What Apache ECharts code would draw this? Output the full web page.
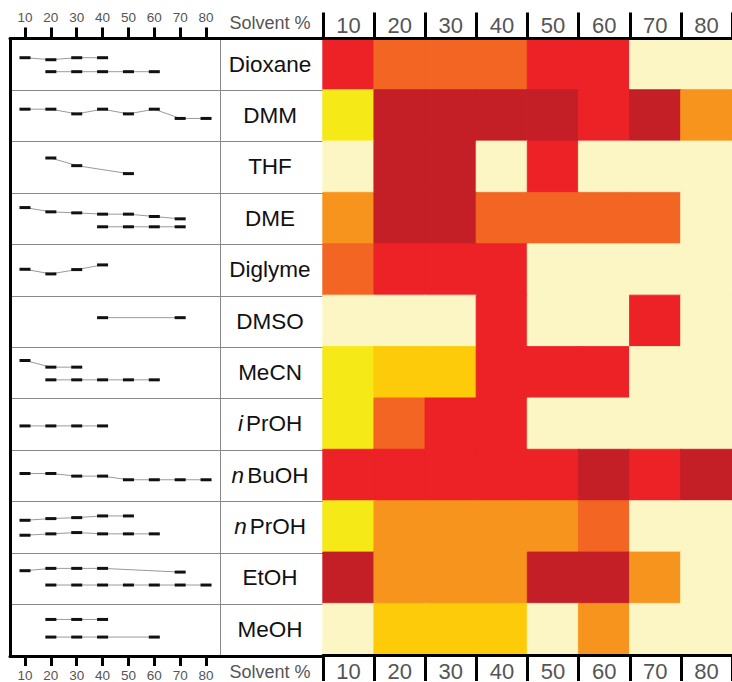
<!DOCTYPE html>
<html>
<head>
<meta charset="utf-8">
<script src="https://cdn.jsdelivr.net/npm/echarts@6/dist/echarts.min.js"></script>
<style>
html,body{margin:0;padding:0;background:#fff;}
#chart{width:732px;height:682px;}
</style>
</head>
<body>
<div id="chart"></div>
<script>
// ---------- data ----------
const percents = [10, 20, 30, 40, 50, 60, 70, 80];
const percentLabels = ['10', '20', '30', '40', '50', '60', '70', '80'];
const solvents = ['Dioxane', 'DMM', 'THF', 'DME', 'Diglyme', 'DMSO', 'MeCN', 'iPrOH', 'nBuOH', 'nPrOH', 'EtOH', 'MeOH'];

// heatmap levels: 0 cream, 1 yellow, 2 gold, 3 light orange, 4 orange, 5 red, 6 dark red
const levelColors = ['#FBF6C3', '#F5E918', '#FECB0A', '#F7941D', '#F26522', '#EC2227', '#C41F27'];
const lvDioxane = [5, 4, 4, 4, 5, 5, 0, 0];
const lvDMM     = [1, 6, 6, 6, 6, 5, 6, 3];
const lvTHF     = [0, 6, 6, 0, 5, 0, 0, 0];
const lvDME     = [3, 6, 6, 4, 4, 4, 4, 0];
const lvDiglyme = [4, 5, 5, 5, 0, 0, 0, 0];
const lvDMSO    = [0, 0, 0, 5, 0, 0, 5, 0];
const lvMeCN    = [1, 2, 2, 5, 5, 5, 0, 0];
const lviPrOH   = [1, 4, 5, 5, 0, 0, 0, 0];
const lvnBuOH   = [5, 5, 5, 5, 5, 6, 5, 6];
const lvnPrOH   = [1, 3, 3, 3, 3, 4, 0, 0];
const lvEtOH    = [6, 3, 3, 3, 6, 6, 3, 0];
const lvMeOH    = [0, 2, 2, 2, 0, 3, 0, 0];
const levelRows = [lvDioxane, lvDMM, lvTHF, lvDME, lvDiglyme, lvDMSO, lvMeCN, lviPrOH, lvnBuOH, lvnPrOH, lvEtOH, lvMeOH];

// mini profiles: [solvent %, relative level within row (0 top .. 100 bottom)]
const dioxaneA = [[10, 37.4], [20, 41.3], [30, 37.4], [40, 37.4]];
const dioxaneB = [[20, 64.6], [30, 64.6], [40, 64.6], [50, 64.6], [60, 64.6]];
const dmmA     = [[10, 37.6], [20, 37.6], [30, 46.7], [40, 37.6], [50, 46.7], [60, 37.6], [70, 55.6], [80, 55.6]];
const thfA     = [[20, 32.6], [30, 47.5], [50, 63.0]];
const dmeA     = [[10, 29.1], [20, 37.4], [30, 39.4], [40, 41.9], [50, 41.9], [60, 46.5], [70, 51.0]];
const dmeB     = [[40, 66.5], [50, 66.5], [60, 66.5], [70, 66.5]];
const diglymeA = [[10, 49.2], [20, 58.2], [30, 49.8], [40, 40.7]];
const dmsoA    = [[40, 43.4], [70, 43.4]];
const mecnA    = [[10, 26.8], [20, 39.7], [30, 39.7]];
const mecnB    = [[20, 64.4], [30, 64.4], [40, 64.4], [50, 64.4], [60, 64.4]];
const iprohA   = [[10, 54.1], [20, 54.1], [30, 54.1], [40, 54.1]];
const nbuohA   = [[10, 46.7], [20, 46.7], [30, 51.8], [40, 51.8], [50, 58.9], [60, 58.9], [70, 58.9], [80, 58.9]];
const nprohA   = [[10, 37.8], [20, 34.5], [30, 32.6], [40, 29.3], [50, 29.3]];
const nprohB   = [[10, 66.9], [20, 64.2], [30, 61.7], [40, 64.2], [50, 64.2], [60, 64.2]];
const etohA    = [[10, 35.9], [20, 31.4], [30, 31.4], [40, 31.4], [70, 38.6]];
const etohB    = [[20, 63.8], [30, 63.8], [40, 63.8], [50, 63.8], [60, 63.8], [70, 63.8], [80, 63.8]];
const meohA    = [[20, 30.8], [30, 30.8], [40, 30.8]];
const meohB    = [[20, 65.1], [30, 65.1], [40, 65.1], [60, 65.1]];
const miniTraces = [
  ['Dioxane', dioxaneA], ['Dioxane', dioxaneB], ['DMM', dmmA], ['THF', thfA],
  ['DME', dmeA], ['DME', dmeB], ['Diglyme', diglymeA], ['DMSO', dmsoA],
  ['MeCN', mecnA], ['MeCN', mecnB], ['iPrOH', iprohA], ['nBuOH', nbuohA],
  ['nPrOH', nprohA], ['nPrOH', nprohB], ['EtOH', etohA], ['EtOH', etohB],
  ['MeOH', meohA], ['MeOH', meohB]
];
const axisTitle = 'Solvent %';

// ---------- chart ----------
const FONT = '"Liberation Sans", Arial, Helvetica, sans-serif';
const chart = echarts.init(document.getElementById('chart'), null, {renderer: 'svg'});

const heatData = [];
levelRows.forEach((row, r) => row.forEach((v, c) => heatData.push({
  value: [c, r, v],
  itemStyle: {color: levelColors[v], borderColor: levelColors[v], borderWidth: 0.8}
})));

const miniSeries = miniTraces.map(([name, pts]) => {
  const r = solvents.indexOf(name);
  return {
    type: 'line', name: name, xAxisIndex: 2, yAxisIndex: 1,
    data: pts.map(p => [p[0], r + p[1] / 100]),
    symbol: 'rect', symbolSize: [11, 3], showAllSymbol: true,
    itemStyle: {color: '#111'},
    lineStyle: {color: '#9a9a9a', width: 1},
    emphasis: {disabled: true}, silent: true, z: 5
  };
});

const heatTop = 38.5, heatH = 617.5;
const miniTickLabel = {show: true, customValues: percents, color: '#555', fontSize: 13.5, fontFamily: FONT};

const option = {
  animation: false,
  backgroundColor: '#fff',
  grid: [
    {left: 323, top: heatTop, width: 412, height: heatH},
    {left: 10, top: heatTop, width: 210, height: heatH},
    {left: 10, top: heatTop, width: 313, height: heatH}
  ],
  xAxis: [
    {type: 'category', gridIndex: 0, position: 'top', data: percentLabels,
     axisLine: {show: true, lineStyle: {color: '#000', width: 3}},
     axisTick: {show: true, length: 26, lineStyle: {color: '#000', width: 3}},
     axisLabel: {color: '#555', fontSize: 22, fontFamily: FONT, margin: 2},
     splitLine: {show: false}, z: 10},
    {type: 'category', gridIndex: 0, position: 'bottom', data: percentLabels,
     axisLine: {show: true, lineStyle: {color: '#000', width: 3}},
     axisTick: {show: true, length: 26, lineStyle: {color: '#000', width: 3}},
     axisLabel: {color: '#555', fontSize: 22, fontFamily: FONT, margin: 5},
     splitLine: {show: false}, z: 10},
    {type: 'value', gridIndex: 1, position: 'top', min: 4.2, max: 85.4,
     axisLine: {show: false, onZero: false},
     axisTick: {show: true, customValues: percents, length: 11, lineStyle: {color: '#000', width: 3}},
     axisLabel: Object.assign({margin: 14}, miniTickLabel),
     splitLine: {show: false}},
    {type: 'value', gridIndex: 1, position: 'bottom', min: 4.2, max: 85.4,
     axisLine: {show: false, onZero: false},
     axisTick: {show: true, customValues: percents, length: 11, lineStyle: {color: '#000', width: 3}},
     axisLabel: Object.assign({margin: 13}, miniTickLabel),
     splitLine: {show: false}},
    {type: 'value', gridIndex: 2, position: 'top', min: 0, max: 1,
     axisLine: {show: true, onZero: false, lineStyle: {color: '#000', width: 3}},
     axisTick: {show: false}, axisLabel: {show: false}, splitLine: {show: false}},
    {type: 'value', gridIndex: 2, position: 'bottom', min: 0, max: 1,
     axisLine: {show: true, onZero: false, lineStyle: {color: '#000', width: 3}},
     axisTick: {show: false}, axisLabel: {show: false}, splitLine: {show: false}}
  ],
  yAxis: [
    {type: 'category', gridIndex: 0, data: solvents, inverse: true, position: 'left',
     axisLine: {show: false}, axisTick: {show: false}, splitLine: {show: false},
     axisLabel: {
       margin: 53, align: 'center', color: '#111', fontSize: 22.5, fontFamily: FONT,
       formatter: function (s) {
         if (/^[in][A-Z]/.test(s)) return '{it|' + s[0] + '}' + s.slice(1);
         return s;
       },
       rich: {it: {fontStyle: 'italic', fontSize: 22.5, color: '#111', fontFamily: FONT, padding: [0, 3, 0, 0]}}
     }},
    {type: 'value', gridIndex: 1, min: 0, max: 12, inverse: true, position: 'right',
     axisLine: {show: true, onZero: false, lineStyle: {color: '#888', width: 1}},
     axisTick: {show: false}, axisLabel: {show: false}, splitLine: {show: false}},
    {type: 'category', gridIndex: 2, data: solvents, inverse: true, position: 'left',
     axisLine: {show: true, lineStyle: {color: '#000', width: 3}},
     axisTick: {show: false}, axisLabel: {show: false},
     splitLine: {show: true, interval: 0, lineStyle: {color: '#888', width: 1}}}
  ],
  graphic: [
    {type: 'text', x: 270, y: 23, silent: true,
     style: {text: axisTitle, fill: '#555', fontSize: 18, fontFamily: FONT, align: 'center', verticalAlign: 'middle'}},
    {type: 'text', x: 270, y: 672, silent: true,
     style: {text: axisTitle, fill: '#555', fontSize: 18, fontFamily: FONT, align: 'center', verticalAlign: 'middle'}}
  ],
  series: [
    {type: 'heatmap', xAxisIndex: 0, yAxisIndex: 0, data: heatData,
     emphasis: {disabled: true}, silent: true, z: 1}
  ].concat(miniSeries)
};
chart.setOption(option);
</script>
</body>
</html>
